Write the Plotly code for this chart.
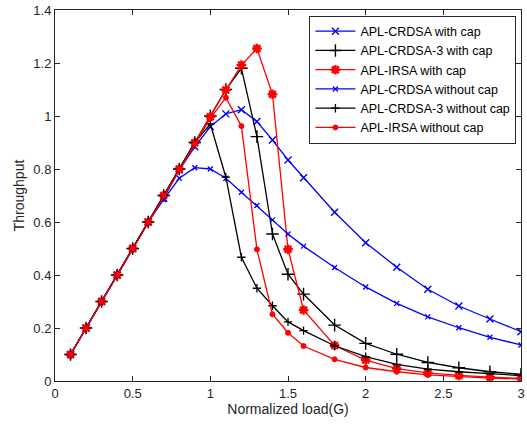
import plotly.graph_objects as go

G = [0.1, 0.2, 0.3, 0.4, 0.5, 0.6, 0.7, 0.8, 0.9, 1.0, 1.1, 1.2, 1.3, 1.4, 1.5, 1.6,
     1.8, 2.0, 2.2, 2.4, 2.6, 2.8, 3.0]

crdsa_cap = [0.1, 0.2, 0.3, 0.4, 0.5, 0.6, 0.69, 0.796, 0.884, 0.96, 1.008, 1.024, 0.979,
             0.909, 0.834, 0.767, 0.637, 0.522, 0.429, 0.346, 0.283, 0.234, 0.186]
crdsa3_cap = [0.1, 0.2, 0.3, 0.4, 0.5, 0.6, 0.7, 0.8, 0.9, 1.0, 1.10, 1.18, 0.922,
              0.555, 0.403, 0.328, 0.211, 0.142, 0.101, 0.070, 0.050, 0.035, 0.025]
irsa_cap = [0.1, 0.2, 0.3, 0.4, 0.5, 0.6, 0.7, 0.8, 0.899, 0.997, 1.098, 1.192, 1.255,
            1.082, 0.497, 0.268, 0.134, 0.079, 0.047, 0.031, 0.021, 0.015, 0.010]
crdsa_nocap = [0.1, 0.2, 0.3, 0.4, 0.5, 0.6, 0.685, 0.765, 0.805, 0.80, 0.765, 0.712,
               0.662, 0.608, 0.555, 0.509, 0.428, 0.355, 0.293, 0.242, 0.201, 0.165, 0.136]
crdsa3_nocap = [0.1, 0.2, 0.3, 0.4, 0.5, 0.6, 0.7, 0.8, 0.9, 0.97, 0.769, 0.467, 0.35,
                0.284, 0.223, 0.19, 0.133, 0.092, 0.063, 0.045, 0.035, 0.028, 0.02]
irsa_nocap = [0.1, 0.2, 0.3, 0.4, 0.5, 0.6, 0.7, 0.8, 0.895, 0.991, 1.069, 0.962, 0.497,
              0.252, 0.182, 0.132, 0.082, 0.051, 0.035, 0.023, 0.016, 0.011, 0.007]

names = ["APL-CRDSA with cap", "APL-CRDSA-3 with cap", "APL-IRSA with cap",
         "APL-CRDSA without cap", "APL-CRDSA-3 without cap", "APL-IRSA without cap"]

xticks = [0, 0.5, 1, 1.5, 2, 2.5, 3]
yticks = [0, 0.2, 0.4, 0.6, 0.8, 1, 1.2, 1.4]

series = [
    (crdsa_cap, "#0000FF", "x-thin-open", 7, 1.4),
    (crdsa3_cap, "#000000", "cross-thin-open", 9, 1.4),
    (irsa_cap, "#FF0000", "asterisk-open", 8, 2.4),
    (crdsa_nocap, "#0000FF", "x-thin-open", 5, 1.3),
    (crdsa3_nocap, "#000000", "cross-thin-open", 6, 1.3),
    (irsa_nocap, "#FF0000", "circle", 5, 1),
]

fig = go.Figure()
for (vals, color, sym, size, mlw), name in zip(series, names):
    fig.add_trace(go.Scatter(
        x=G, y=vals, name=name, mode="lines+markers",
        line=dict(color=color, width=1.3),
        marker=dict(symbol=sym, size=size, color=color,
                    line=dict(color=color, width=mlw)),
    ))

axis_common = dict(
    showline=True, linecolor="#262626", linewidth=1, mirror="ticks",
    ticks="inside", ticklen=5, tickcolor="#262626", showgrid=False, zeroline=False,
    automargin=False,
    tickfont=dict(family="Liberation Sans, Arial", size=13, color="#262626"),
)

fig.update_layout(
    width=527, height=428,
    margin=dict(l=55, r=6, t=10, b=47),
    paper_bgcolor="white", plot_bgcolor="white",
    font=dict(family="Liberation Sans, Arial", color="#262626"),
    xaxis=dict(range=[0, 3], tickvals=xticks, ticktext=[str(t) for t in xticks],
               title=dict(text="Normalized load(G)", font=dict(size=14), standoff=3),
               **axis_common),
    yaxis=dict(range=[0, 1.4], tickvals=yticks, ticktext=[str(t) for t in yticks],
               title=dict(text="Throughput", font=dict(size=14), standoff=5),
               **axis_common),
    legend=dict(x=0.546, y=0.985, xanchor="left", yanchor="top",
                bgcolor="white", bordercolor="#262626", borderwidth=1,
                font=dict(size=12.5, color="black"), tracegroupgap=0,
                itemwidth=40),
    showlegend=True,
)

fig.write_html("out.html", config={"displayModeBar": False},
               post_script="document.body.style.margin='0';document.body.style.overflow='hidden';")
